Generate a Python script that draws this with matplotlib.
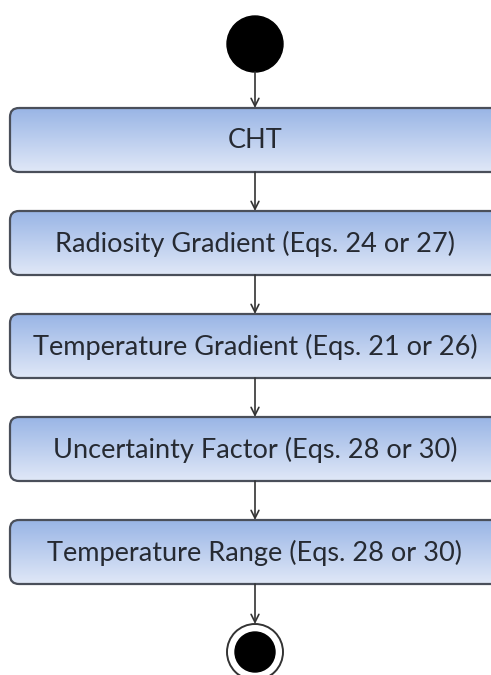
import matplotlib.pyplot as plt
import numpy as np
from matplotlib.patches import FancyBboxPatch, Circle

plt.rcParams['font.family'] = ['Lato', 'DejaVu Sans']

# steps of the flow
steps = ['CHT',
         'Radiosity Gradient (Eqs. 24 or 27)',
         'Temperature Gradient (Eqs. 21 or 26)',
         'Uncertainty Factor (Eqs. 28 or 30)',
         'Temperature Range (Eqs. 28 or 30)']

W, H = 491, 675
fig = plt.figure(figsize=(W / 100, H / 100), dpi=100)
ax = fig.add_axes([0, 0, 1, 1])
ax.set_xlim(0, W)
ax.set_ylim(H, 0)
ax.axis('off')

cx = 255
box_x0, box_x1 = 10, 502
box_h = 64
first_top = 108
gap = 103

# vertical gradient, dark blue at top
grad = np.linspace(0, 1, 256).reshape(-1, 1)
top_c = np.array([0.60, 0.71, 0.90])
bot_c = np.array([0.88, 0.91, 0.97])
img = top_c + (bot_c - top_c) * grad[..., None]

tops = [first_top + i * gap for i in range(len(steps))]
for t, label in zip(tops, steps):
    patch = FancyBboxPatch((box_x0, t), box_x1 - box_x0, box_h,
                           boxstyle='round,pad=0,rounding_size=9',
                           facecolor='none', edgecolor='#4a4f5a', lw=1.6, zorder=3)
    ax.add_patch(patch)
    im = ax.imshow(img, extent=(box_x0, box_x1, t + box_h, t), aspect='auto',
                   interpolation='bilinear', zorder=2)
    im.set_clip_path(patch)
    ax.text(cx, t + box_h / 2 + 1, label, ha='center', va='center',
            fontsize=19.5, color='#262a32', zorder=4)

# start node
ax.add_patch(Circle((cx, 44), 28, color='black', zorder=3))
# end node
end_y = 652
ax.add_patch(Circle((cx, end_y), 28, facecolor='white', edgecolor='#333333', lw=1.4, zorder=3))
ax.add_patch(Circle((cx, end_y), 20, color='black', zorder=4))

# arrows
starts = [72] + [t + box_h for t in tops]
ends = tops + [end_y - 28]
for y0, y1 in zip(starts, ends):
    ax.annotate('', xy=(cx, y1), xytext=(cx, y0),
                arrowprops=dict(arrowstyle='->', color='#333333', lw=1.2,
                                mutation_scale=14, shrinkA=0, shrinkB=0))

fig.savefig('out.png', dpi=100)
